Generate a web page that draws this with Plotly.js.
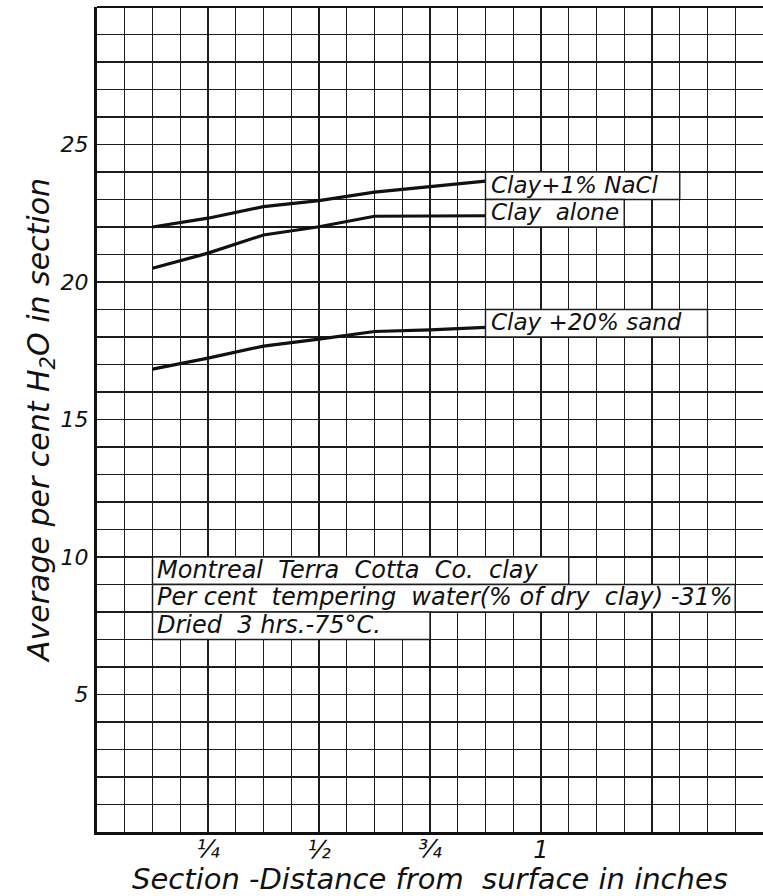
<!DOCTYPE html>
<html>
<head>
<meta charset="utf-8">
<script src="https://cdn.plot.ly/plotly-3.0.1.min.js"></script>
<style>
  html, body { margin: 0; padding: 0; background: #ffffff; }
  #chart { width: 763px; height: 896px; }
</style>
</head>
<body>
<div id="chart"></div>
<script>
// ---- Data ----
const distanceIn = [0.125, 0.25, 0.375, 0.5, 0.625, 0.75, 0.875];
const clayNaclPct = [22.0, 22.32, 22.74, 22.96, 23.27, 23.48, 23.67];
const clayAlonePct = [20.5, 21.05, 21.71, 22.01, 22.39, 22.41, 22.41];
const claySandPct = [16.83, 17.23, 17.67, 17.92, 18.2, 18.26, 18.35];

const seriesNames = ["Clay+1% NaCl", "Clay  alone", "Clay +20% sand"];

const xTickVals = [0.25, 0.5, 0.75, 1];
const xTickText = ["\u00BC", "\u00BD", "\u00BE", "1"];
const yTickVals = [5, 10, 15, 20, 25];
const yTickText = ["5", "10", "15", "20", "25"];

const noteLines = [
  "Montreal  Terra  Cotta  Co.  clay",
  "Per cent  tempering  water(% of dry  clay) -31%",
  "Dried  3 hrs.-75\u00B0C."
];

const xTitle = "Section -Distance from  surface in inches";
const yTitle = "Average per cent H<sub>2</sub>O in section";

// ---- Styling / layout ----
const FONT = "DejaVu Sans, Liberation Sans, sans-serif";
const ink = "#111111";
const gridInk = "#1c1c1c";

function nb(s) { return s.replace(/ /g, "\u00A0"); }
function it(s) { return "<i>" + s + "</i>"; }

const seriesData = [clayNaclPct, clayAlonePct, claySandPct];
const traces = seriesData.map((ys, i) => ({
  type: "scatter",
  mode: "lines",
  x: distanceIn,
  y: ys,
  name: seriesNames[i],
  line: { color: ink, width: 3.2 },
  hoverinfo: "x+y+name"
}));

// label boxes (one grid row tall) at the end of each curve
const labelBoxes = [
  { x0: 0.875, x1: 1.3125, y0: 23, y1: 24 },
  { x0: 0.875, x1: 1.1875, y0: 22, y1: 23 },
  { x0: 0.875, x1: 1.375, y0: 18, y1: 19 }
];
const noteBoxes = [
  { x0: 0.125, x1: 1.0625, y0: 9, y1: 10 },
  { x0: 0.125, x1: 1.4375, y0: 8, y1: 9 },
  { x0: 0.125, x1: 0.75, y0: 7, y1: 8 }
];

const shapes = [];
labelBoxes.concat(noteBoxes).forEach(b => {
  shapes.push({
    type: "rect", xref: "x", yref: "y",
    x0: b.x0, x1: b.x1, y0: b.y0, y1: b.y1,
    fillcolor: "#ffffff",
    line: { color: gridInk, width: 1.4 },
    layer: "above"
  });
});
// top border of the plotting frame
shapes.push({
  type: "line", xref: "paper", yref: "paper",
  x0: 0, x1: 1, y0: 1, y1: 1,
  line: { color: ink, width: 2.2 }
});

const annotations = [];
seriesNames.forEach((name, i) => {
  const b = labelBoxes[i];
  annotations.push({
    xref: "x", yref: "y",
    x: b.x0, y: (b.y0 + b.y1) / 2,
    xanchor: "left", yanchor: "middle",
    xshift: 3, yshift: 1,
    text: it(nb(name)),
    showarrow: false,
    font: { family: FONT, size: 23, color: ink }
  });
});
noteLines.forEach((line, i) => {
  const b = noteBoxes[i];
  annotations.push({
    xref: "x", yref: "y",
    x: b.x0, y: (b.y0 + b.y1) / 2,
    xanchor: "left", yanchor: "middle",
    xshift: 2, yshift: 1,
    text: it(nb(line)),
    showarrow: false,
    font: { family: FONT, size: 24, color: ink }
  });
});

const layout = {
  width: 763,
  height: 896,
  margin: { l: 97, r: 0, t: 7, b: 64 },
  paper_bgcolor: "#ffffff",
  plot_bgcolor: "#ffffff",
  showlegend: false,
  font: { family: FONT, color: ink },
  xaxis: {
    range: [0, 1.5],
    tickvals: xTickVals,
    ticktext: xTickText.map(it),
    ticks: "",
    showgrid: true,
    gridcolor: gridInk,
    gridwidth: 1.4,
    minor: { dtick: 0.0625, tick0: 0, showgrid: true, gridcolor: gridInk, gridwidth: 1.4 },
    zeroline: false,
    showline: true,
    linecolor: ink,
    linewidth: 3,
    ticklabelstandoff: -6,
    tickfont: { family: FONT, size: 24, color: ink },
    title: {
      text: it(nb(xTitle)),
      font: { family: FONT, size: 29, color: ink },
      standoff: 6
    },
    fixedrange: true
  },
  yaxis: {
    range: [0, 30],
    tickvals: yTickVals,
    ticktext: yTickText.map(it),
    ticks: "",
    showgrid: true,
    gridcolor: gridInk,
    gridwidth: 1.4,
    minor: { dtick: 1, tick0: 0, showgrid: true, gridcolor: gridInk, gridwidth: 1.4 },
    zeroline: false,
    showline: true,
    linecolor: ink,
    linewidth: 3,
    ticklabelstandoff: 1,
    tickfont: { family: FONT, size: 22, color: ink },
    title: {
      text: it(yTitle),
      font: { family: FONT, size: 30, color: ink },
      standoff: 3
    },
    fixedrange: true
  },
  shapes: shapes,
  annotations: annotations
};

Plotly.newPlot("chart", traces, layout, { displayModeBar: false, staticPlot: true });
</script>
</body>
</html>
